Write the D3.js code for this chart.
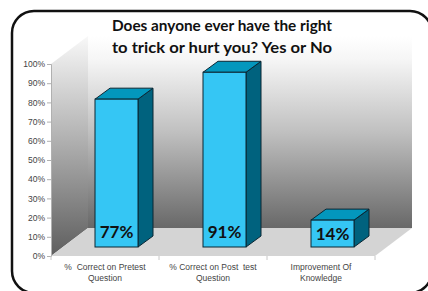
<!DOCTYPE html>
<html>
<head>
<meta charset="utf-8">
<script src="https://d3js.org/d3.v7.min.js"></script>
<style>
  body { margin: 0; background: #fff; }
  svg { display: block; }
</style>
</head>
<body>
<script>
// chart data
var categories = ["%  Correct on Pretest|Question", "% Correct on Post  test|Question", "Improvement Of|Knowledge"];
var values = [0.77, 0.91, 0.14];
var valueLabels = ["77%", "91%", "14%"];
var yTicks = [0, 0.1, 0.2, 0.3, 0.4, 0.5, 0.6, 0.7, 0.8, 0.9, 1];
var titleLines = ["Does anyone ever have the right", "to trick or hurt you? Yes or No"];

var W = 428, H = 291;

// plot frame (front plane of the 3d box)
var pLeft = 51, pRight = 375, pBottom = 256, pTop = 64;
var depthX = 37, depthY = 28;        // depth of the floor / walls
var barOffX = 11.5, barOffY = 9;     // bar front plane behind floor front
var barDX = 15, barDY = 11;          // bar depth

var svg = d3.select("body").append("svg")
    .attr("width", W)
    .attr("height", H);

var defs = svg.append("defs");
var g1 = defs.append("linearGradient").attr("id", "wall")
    .attr("x1", 0).attr("y1", 0).attr("x2", 0).attr("y2", 1);
g1.append("stop").attr("offset", "0%").attr("stop-color", "#ffffff");
g1.append("stop").attr("offset", "12%").attr("stop-color", "#f6f6f6");
g1.append("stop").attr("offset", "50%").attr("stop-color", "#c0c0c0");
g1.append("stop").attr("offset", "100%").attr("stop-color", "#686868");
var g2 = defs.append("linearGradient").attr("id", "lwall")
    .attr("x1", 0).attr("y1", 0).attr("x2", 0).attr("y2", 1);
g2.append("stop").attr("offset", "0%").attr("stop-color", "#f8f8f8");
g2.append("stop").attr("offset", "45%").attr("stop-color", "#b4b4b4");
g2.append("stop").attr("offset", "100%").attr("stop-color", "#5e5e5e");

var x = d3.scaleBand().domain(categories).range([pLeft, pRight]);
var y = d3.scaleLinear().domain([0, 1]).range([pBottom, pTop]);

// back wall
svg.append("rect")
    .attr("x", pLeft + depthX)
    .attr("y", pTop - depthY)
    .attr("width", pRight - pLeft)
    .attr("height", pBottom - pTop)
    .attr("fill", "url(#wall)");

// left wall
svg.append("path")
    .attr("d", "M" + pLeft + "," + y(0) + "L" + pLeft + "," + y(1) +
               "L" + (pLeft + depthX) + "," + (y(1) - depthY) +
               "L" + (pLeft + depthX) + "," + (y(0) - depthY) + "Z")
    .attr("fill", "url(#lwall)");

// floor
svg.append("path")
    .attr("d", "M" + pLeft + "," + y(0) + "L" + pRight + "," + y(0) +
               "L" + (pRight + depthX) + "," + (y(0) - depthY) +
               "L" + (pLeft + depthX) + "," + (y(0) - depthY) + "Z")
    .attr("fill", "#d4d4d4");

// y axis
var yAxis = svg.append("g")
    .attr("transform", "translate(" + pLeft + ",0)")
    .call(d3.axisLeft(y).tickValues(yTicks).tickFormat(d3.format(".0%")).tickSize(4).tickPadding(2));
yAxis.select(".domain").attr("stroke", "#b0b0b0");
yAxis.selectAll(".tick line").attr("stroke", "#b0b0b0");
yAxis.selectAll(".tick text")
    .attr("font-family", "Liberation Sans, Arial, sans-serif")
    .attr("font-size", 8.5)
    .attr("fill", "#444");

// category separators under the floor
var seps = categories.map(function(c) { return x(c); }).concat([pRight]);
svg.selectAll(".sep").data(seps).enter().append("line")
    .attr("x1", function(d) { return d; }).attr("x2", function(d) { return d; })
    .attr("y1", y(0)).attr("y2", y(0) + 4)
    .attr("stroke", "#c8c8c8");

// bars
var bw = 43;
var bars = svg.selectAll(".bar").data(values).enter().append("g");
bars.each(function(v, i) {
  var gg = d3.select(this);
  var cx = x(categories[i]) + x.bandwidth() / 2 + barOffX;
  var x0 = cx - bw / 2, x1 = cx + bw / 2;
  var yb = y(0) - barOffY;
  var yt = yb - (y(0) - y(v));
  // side
  gg.append("path")
      .attr("d", "M" + x1 + "," + yb + "L" + (x1 + barDX) + "," + (yb - barDY) +
                 "L" + (x1 + barDX) + "," + (yt - barDY) + "L" + x1 + "," + yt + "Z")
      .attr("fill", "#00627e").attr("stroke", "#0b2633").attr("stroke-width", 1);
  // top
  gg.append("path")
      .attr("d", "M" + x0 + "," + yt + "L" + x1 + "," + yt +
                 "L" + (x1 + barDX) + "," + (yt - barDY) +
                 "L" + (x0 + barDX) + "," + (yt - barDY) + "Z")
      .attr("fill", "#0397bd").attr("stroke", "#0b2633").attr("stroke-width", 1);
  // front
  gg.append("rect")
      .attr("x", x0).attr("y", yt).attr("width", bw).attr("height", yb - yt)
      .attr("fill", "#35c6f4").attr("stroke", "#0b2633").attr("stroke-width", 1);
  // value label near the bottom of the front face
  gg.append("text")
      .attr("x", cx)
      .attr("y", Math.max(yb - 9, (yt + yb) / 2 + 6))
      .attr("text-anchor", "middle")
      .attr("font-family", "Lato, sans-serif")
      .attr("font-weight", "bold")
      .attr("font-size", 17)
      .attr("fill", "#111")
      .text(valueLabels[i]);
});

// category labels
categories.forEach(function(c) {
  var t = svg.append("text")
      .attr("text-anchor", "middle")
      .attr("font-family", "Liberation Sans, Arial, sans-serif")
      .attr("font-size", 8.5)
      .attr("fill", "#444")
      .style("white-space", "pre");
  c.split("|").forEach(function(line, k) {
    t.append("tspan")
        .attr("x", x(c) + x.bandwidth() / 2)
        .attr("y", 270 + k * 11)
        .text(line);
  });
});

// title
titleLines.forEach(function(line, k) {
  svg.append("text")
      .attr("x", 222)
      .attr("y", 31 + k * 22)
      .attr("text-anchor", "middle")
      .attr("font-family", "Lato, sans-serif")
      .attr("font-weight", "bold")
      .attr("font-size", 15)
      .attr("textLength", 220)
      .attr("lengthAdjust", "spacingAndGlyphs")
      .attr("fill", "#111")
      .text(line);
});

// rounded frame
svg.append("rect")
    .attr("x", 12).attr("y", 11)
    .attr("width", 420).attr("height", 282)
    .attr("rx", 22).attr("ry", 22)
    .attr("fill", "none")
    .attr("stroke", "#111")
    .attr("stroke-width", 2.5);
</script>
</body>
</html>
